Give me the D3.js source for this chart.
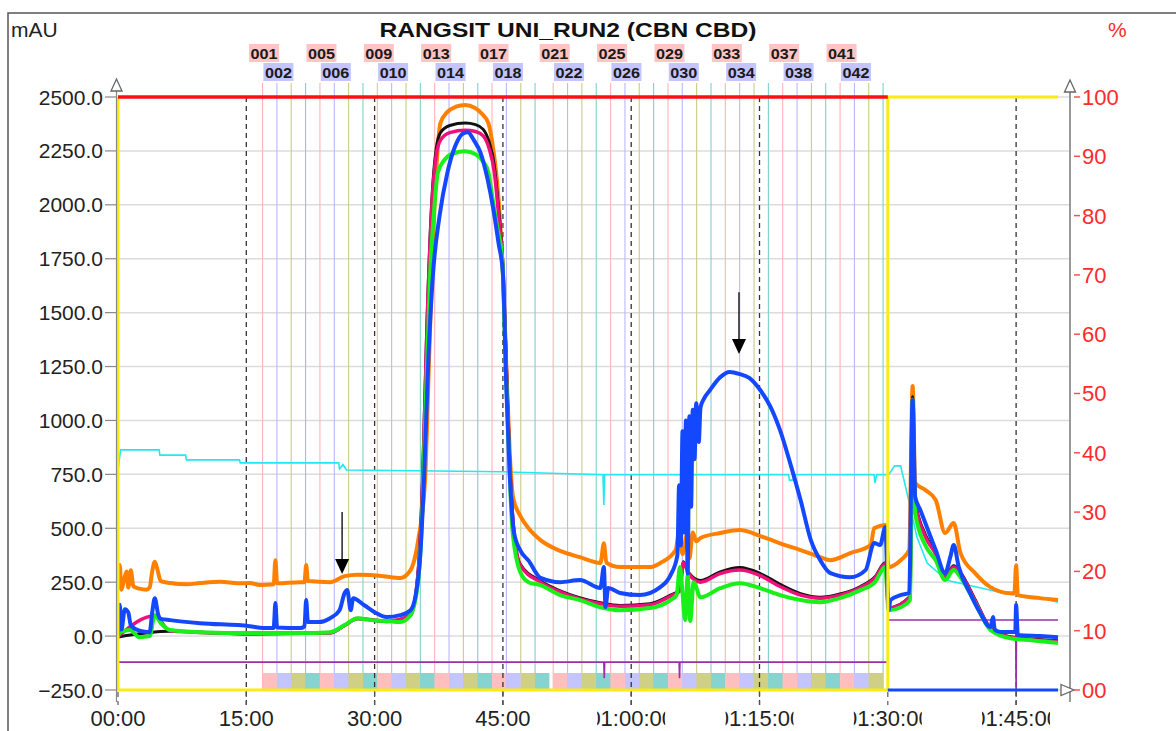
<!DOCTYPE html>
<html>
<head>
<meta charset="utf-8">
<script src="https://cdn.jsdelivr.net/npm/d3@7"></script>
<style>
body { margin: 0; background: #fff; }
text { font-family: "Liberation Sans", Arial, sans-serif; }
</style>
</head>
<body>
<svg id="chart" width="1176" height="731"></svg>
<script>
// chromatogram data: [minutes, mAU]
var orange = [[0,213],[0.2,330],[0.4,215],[0.7,260],[1.0,300],[1.2,225],[1.5,305],[1.8,230],[2.5,220],[3.3,215],[3.7,225],[4.0,300],[4.3,345],[4.6,310],[5,255],[6.1,246],[8,240],[9.6,246],[12,252],[14,245],[15.4,246],[16.6,237],[18.2,240],[18.4,352],[18.6,245],[21.3,250],[21.8,250],[22.0,330],[22.2,255],[24.8,250],[26.5,278],[28,285],[29.5,283],[31,278],[33,269],[34.2,306],[35.1,445],[35.9,724],[36.3,1200],[36.7,1684],[37.2,2150],[37.7,2379],[38.5,2430],[39.5,2455],[40.6,2463],[41.7,2450],[42.6,2420],[43.3,2379],[43.9,2250],[44.3,2115],[44.7,1900],[45.0,1684],[45.4,1250],[45.8,850],[46.2,640],[47,560],[48,500],[49.4,445],[51.7,395],[54,366],[56.4,339],[56.8,430],[57.1,340],[58.7,320],[62.2,320],[63.4,339],[65.2,399],[65.6,482],[66.0,380],[66.5,470],[66.8,360],[67.2,480],[67.6,440],[68.1,455],[70.4,478],[72.7,492],[75.1,464],[77.4,430],[79.8,399],[82.1,366],[83.3,352],[85.6,385],[88,422],[88.4,500],[89.7,515],[90.1,320],[91.5,352],[92.5,399],[92.9,1160],[93.2,710],[94.4,677],[95.6,631],[96.7,478],[97.7,524],[98.5,385],[100.2,292],[102,227],[104.3,199],[104.8,199],[105,329],[105.2,190],[107.8,176],[109.9,167]];

var black = [[0,-4],[6.1,22],[15.4,10],[24.8,14],[26.5,48],[28,80],[31.4,67],[34.2,96],[35.1,310],[35.6,720],[36.1,1430],[36.7,2030],[37.2,2260],[37.7,2335],[38.8,2368],[40.6,2379],[41.8,2372],[42.7,2350],[43.4,2290],[44.0,2180],[44.5,1980],[45.0,1720],[45.4,1270],[45.8,810],[46.2,530],[47,335],[49.4,255],[51.7,210],[56.4,155],[58.7,142],[62.2,150],[64.6,190],[65.7,215],[66.1,345],[66.7,295],[68.1,258],[70.4,298],[72.7,318],[75.1,290],[77.4,240],[79.8,197],[82.1,180],[84.4,195],[86.8,230],[88.5,275],[89.7,340],[90.1,132],[92.6,185],[92.9,1110],[93.2,630],[94.4,470],[95.6,388],[96.7,280],[97.7,326],[98.5,295],[100.2,170],[102,38],[104.3,-3],[109.9,-22]];

var pink = [[0,-2],[4.3,94],[6.1,24],[15.4,12],[24.8,16],[26.5,50],[28,82],[31.4,69],[34.2,97],[35.1,300],[35.6,700],[36.1,1400],[36.7,2000],[37.2,2230],[37.7,2300],[38.8,2335],[40.6,2346],[41.8,2340],[42.7,2320],[43.4,2260],[44.0,2150],[44.5,1950],[45.0,1700],[45.4,1250],[45.8,800],[46.2,520],[47,330],[49.4,250],[51.7,205],[56.4,150],[58.7,138],[62.2,145],[64.6,185],[65.7,210],[66.1,340],[66.7,290],[68.1,250],[70.4,290],[72.7,306],[75.1,280],[77.4,230],[79.8,190],[82.1,176],[84.4,190],[86.8,225],[88.5,270],[89.7,335],[90.1,130],[92.6,180],[92.9,1100],[93.2,620],[94.4,460],[95.6,380],[96.7,275],[97.7,320],[98.5,290],[100.2,165],[102,35],[104.3,-5],[109.9,-25]];

var green = [[0,0],[0.3,20],[1.4,28],[2.5,-5],[3.7,0],[4.3,97],[5,60],[6.1,28],[9.6,18],[15.4,14],[21.3,14],[24.8,18],[26.5,51],[28,83],[29.5,74],[31.4,70],[33,65],[34.2,97],[35.1,260],[35.6,600],[36.0,1100],[36.5,1684],[37.0,2000],[37.4,2150],[38.2,2210],[39.2,2238],[40.6,2248],[41.8,2235],[42.7,2200],[43.3,2150],[43.9,2000],[44.4,1880],[44.9,1760],[45.3,1300],[45.7,850],[46.1,500],[47,300],[48,250],[49.4,236],[51.7,190],[54,167],[56.4,134],[58.7,120],[62.2,130],[64.6,167],[65.3,190],[65.7,320],[66.0,200],[66.3,75],[66.6,280],[66.9,70],[67.3,250],[68.1,180],[70.4,222],[72.7,245],[75.1,222],[77.4,190],[79.8,167],[82.1,157],[84.4,176],[86.8,213],[88.5,250],[89.7,320],[90.1,120],[91.5,134],[92.6,167],[92.9,1095],[93.2,570],[94.4,420],[95.6,352],[96.7,260],[97.7,306],[98.5,273],[100.2,153],[102,28],[104.3,-10],[107,-20],[109.9,-32]];

var blue = [[0,0],[0.2,145],[0.4,30],[0.8,125],[1.2,110],[1.5,50],[2.5,25],[3.7,18],[4.0,110],[4.3,176],[4.7,100],[5,80],[6.1,74],[9.6,60],[15.4,46],[17,37],[18.2,37],[18.4,153],[18.6,40],[21.3,37],[21.8,45],[22.0,167],[22.2,65],[23.4,65],[24.8,83],[25.9,120],[26.5,200],[26.8,214],[27.2,120],[27.5,176],[28.8,143],[30,111],[31.4,88],[33,97],[34.2,120],[34.8,190],[35.3,353],[35.8,750],[36.3,1300],[36.8,1665],[37.6,1950],[38.5,2147],[39.4,2270],[40.3,2330],[40.9,2337],[41.6,2300],[42.4,2240],[43.2,2120],[43.9,1975],[44.5,1820],[45.0,1684],[45.4,1150],[45.8,750],[46.3,480],[47,400],[48,350],[49.4,270],[51.7,250],[54,260],[56.4,223],[56.8,320],[57.0,135],[57.3,223],[58.7,200],[61,190],[63.4,227],[64.6,283],[65.4,375],[65.6,700],[65.8,420],[66.0,950],[66.2,480],[66.4,1000],[66.6,290],[66.8,1020],[67.0,600],[67.2,1050],[67.4,820],[67.6,1080],[67.9,900],[68.1,1060],[68.5,1100],[69.2,1140],[70.4,1200],[71.5,1225],[72.7,1215],[73.8,1197],[75.1,1140],[76.3,1062],[77.4,955],[78.6,800],[79.8,631],[81,445],[82.1,352],[83.3,292],[85.6,273],[87.4,306],[88.4,432],[89.1,422],[89.7,505],[90.1,120],[90.3,167],[91.5,190],[92.5,200],[92.9,1095],[93.2,645],[93.8,585],[95.6,399],[96.7,292],[97.3,366],[97.7,422],[98.3,320],[99.6,200],[100.8,107],[102,42],[102.3,88],[102.5,30],[103.2,19],[104.9,19],[105,144],[105.2,5],[107.8,0],[109.9,-5]];

// right axis traces: [minutes, %]
var cyan = [[0,37.0],[0.3,40.5],[4.8,40.5],[4.9,39.6],[7.9,39.6],[8.0,38.8],[14.2,38.8],[14.3,38.3],[25.8,38.3],[25.9,37.3],[26.3,38.0],[26.5,37.6],[26.7,37.1],[45,36.8],[56.7,36.3],[56.8,31.2],[56.9,36.3],[78.4,36.3],[78.5,35.4],[78.9,35.4],[79.0,36.3],[88.4,36.3],[88.5,34.9],[88.7,36.3],[90.1,36.3],[90.8,37.8],[91.5,37.8],[92.6,31],[93.4,25.8],[94.6,21.4],[96.9,18.5],[101.8,16.9],[104,16.2],[107.8,15.5],[109.9,14.8]];
var purple = [[0,4.7],[56.8,4.7],[56.85,2.0],[56.9,4.7],[65.6,4.7],[65.65,2.0],[65.7,4.7],[90,4.7],[90,11.8],[104.95,11.8],[105,0],[105.05,11.8],[109.9,11.8]];
var redB = [[0,100],[90,100]];
var yellowB = [[0,100],[0,0],[90,0],[90,100],[109.9,100]];
var blueB = [[90,0],[109.9,0]];

// fractions
var fracStart = [16.90,18.58,20.25,21.93,23.61,25.29,26.96,28.64,30.32,31.99,33.67,35.35,37.02,38.70,40.38,42.06,43.73,45.41,47.09,48.76,
                 50.88,52.56,54.23,55.91,57.59,59.27,60.94,62.62,64.30,65.97,67.65,69.33,71.00,72.68,74.36,76.04,77.71,79.39,81.07,82.74,84.42,86.10,87.77];
var fracWidth = 1.677;
var fracBand = ["#ffbfbf", "#c4c4ff", "#cfcf86", "#86d3cf"];
var fracLine = ["#ffb4b4", "#b8b8ff", "#cccc80", "#80d0cc"];

var leftTicks = [-250, 0, 250, 500, 750, 1000, 1250, 1500, 1750, 2000, 2250, 2500];
var rightTicks = [0, 10, 20, 30, 40, 50, 60, 70, 80, 90, 100];
var timeTicks = [0, 15, 30, 45, 60, 75, 90, 105];
var timeLabels = ["00:00", "15:00", "30:00", "45:00", "01:00:00", "01:15:00", "01:30:00", "01:45:00"];
var dashedAt = [15, 30, 45, 60, 75, 105];
var arrows = [[26.2, 575, 288], [72.6, 1595, 1308]];

var svg = d3.select("#chart");

var x = d3.scaleLinear().domain([0, 111.3]).range([118, 1070]);
var yL = d3.scaleLinear().domain([-250, 2500]).range([690, 97]);
var yR = d3.scaleLinear().domain([0, 100]).range([690, 97]);

// frame
svg.append("path").attr("d", "M8,731 V13 H1176")
    .attr("fill", "none").attr("stroke", "#555").attr("stroke-width", 1.5);

// horizontal grid
svg.append("g").selectAll("line").data(leftTicks).enter().append("line")
    .attr("x1", 118).attr("x2", 1070)
    .attr("y1", function (d) { return yL(d); })
    .attr("y2", function (d) { return yL(d); })
    .attr("stroke", "#dcdcdc").attr("stroke-width", 1.5);

// fraction lines
svg.append("g").selectAll("line").data(fracStart).enter().append("line")
    .attr("x1", function (d) { return x(d); })
    .attr("x2", function (d) { return x(d); })
    .attr("y1", 83).attr("y2", 690)
    .attr("stroke", function (d, i) { return fracLine[i % 4]; })
    .attr("stroke-width", 1.1);
svg.append("line")
    .attr("x1", x(fracStart[42] + fracWidth)).attr("x2", x(fracStart[42] + fracWidth))
    .attr("y1", 83).attr("y2", 690)
    .attr("stroke", fracLine[3]).attr("stroke-width", 1.1);

// fraction band
svg.append("g").selectAll("rect").data(fracStart).enter().append("rect")
    .attr("x", function (d) { return x(d); })
    .attr("width", function (d) { return x(d + fracWidth) - x(d); })
    .attr("y", 673).attr("height", 17)
    .attr("fill", function (d, i) { return fracBand[i % 4]; });

// dashed time lines
svg.append("g").selectAll("line").data(dashedAt).enter().append("line")
    .attr("x1", function (d) { return x(d); })
    .attr("x2", function (d) { return x(d); })
    .attr("y1", 97).attr("y2", 705)
    .attr("stroke", "#333").attr("stroke-width", 1.3)
    .attr("stroke-dasharray", "5,4");

// fraction labels
var labelled = [];
fracStart.forEach(function (d, i) {
    var n = i + 1;
    if (n % 4 === 1 || n % 4 === 2) { labelled.push({ n: n, t: d }); }
});
var lab = svg.append("g").selectAll("g").data(labelled).enter().append("g")
    .attr("transform", function (d) {
        return "translate(" + (x(d.t) + 1.5) + "," + (d.n % 4 === 1 ? 53 : 72) + ")";
    });
lab.append("rect")
    .attr("x", -15).attr("y", -9).attr("width", 30).attr("height", 18)
    .attr("fill", function (d) { return d.n % 4 === 1 ? "#ffc4c4" : "#c4c4ff"; });
lab.append("text")
    .attr("x", -13.5).attr("dy", "0.37em")
    .attr("font-size", 15).attr("font-weight", "bold").attr("fill", "#1a1a1a")
    .attr("textLength", 27).attr("lengthAdjust", "spacingAndGlyphs")
    .text(function (d) { return d3.format("03d")(d.n); });

var lineL = d3.line().curve(d3.curveMonotoneX)
    .x(function (d) { return x(d[0]); }).y(function (d) { return yL(d[1]); });
var lineR = d3.line().x(function (d) { return x(d[0]); }).y(function (d) { return yR(d[1]); });

svg.append("path").datum(purple).attr("d", lineR)
    .attr("fill", "none").attr("stroke", "#9a2fa8").attr("stroke-width", 1.6);
svg.append("path").datum(cyan).attr("d", lineR)
    .attr("fill", "none").attr("stroke", "#22e8f0").attr("stroke-width", 1.6);

var traces = [
    { data: orange, color: "#ff8000", w: 4 },
    { data: black, color: "#111", w: 3 },
    { data: pink, color: "#f0107a", w: 3.5 },
    { data: green, color: "#19f019", w: 4 },
    { data: blue, color: "#1448ff", w: 4 }
];
traces.forEach(function (s) {
    svg.append("path").datum(s.data).attr("d", lineL)
        .attr("fill", "none").attr("stroke", s.color)
        .attr("stroke-width", s.w).attr("stroke-linejoin", "round");
});

svg.append("path").datum(yellowB).attr("d", lineR)
    .attr("fill", "none").attr("stroke", "#f8ec10").attr("stroke-width", 3);
svg.append("path").datum(redB).attr("d", lineR)
    .attr("fill", "none").attr("stroke", "#ff1010").attr("stroke-width", 3.5);
svg.append("path").datum(blueB).attr("d", lineR)
    .attr("fill", "none").attr("stroke", "#1448ff").attr("stroke-width", 3);

// axes
svg.append("line").attr("x1", 116.5).attr("x2", 116.5).attr("y1", 88).attr("y2", 702)
    .attr("stroke", "#888").attr("stroke-width", 1.2);
svg.append("line").attr("x1", 1070).attr("x2", 1070).attr("y1", 90).attr("y2", 702)
    .attr("stroke", "#999").attr("stroke-width", 2);
svg.append("path").attr("d", "M116.5,79 L111,91 L122,91 Z")
    .attr("fill", "#fff").attr("stroke", "#666").attr("stroke-width", 1.3);
svg.append("path").attr("d", "M1070,80 L1064.5,92 L1075.5,92 Z")
    .attr("fill", "#fff").attr("stroke", "#666").attr("stroke-width", 1.3);
svg.append("path").attr("d", "M1061,684.5 L1074,690 L1061,695.5 Z")
    .attr("fill", "#fff").attr("stroke", "#666").attr("stroke-width", 1.3);

var gl = svg.append("g").selectAll("g").data(leftTicks).enter().append("g")
    .attr("transform", function (d) { return "translate(0," + yL(d) + ")"; });
gl.append("line").attr("x1", 105).attr("x2", 116).attr("stroke", "#888").attr("stroke-width", 1.2);
gl.append("text").attr("x", 103).attr("dy", "0.36em").attr("text-anchor", "end")
    .attr("font-size", 21).attr("fill", "#222")
    .text(function (d) { return d3.format(".1f")(d); });

var gr = svg.append("g").selectAll("g").data(rightTicks).enter().append("g")
    .attr("transform", function (d) { return "translate(0," + yR(d) + ")"; });
gr.append("line").attr("x1", 1074).attr("x2", 1080).attr("stroke", "#ff5050").attr("stroke-width", 1.5);
gr.append("text").attr("x", 1082).attr("dy", "0.36em")
    .attr("font-size", 22).attr("fill", "#ff2a2a")
    .text(function (d) { return d === 0 ? "00" : d; });

// time labels, clipped like the instrument software does
var defs = svg.append("defs");
timeTicks.forEach(function (d, i) {
    defs.append("clipPath").attr("id", "tc" + i).append("rect")
        .attr("x", x(d) - 34).attr("y", 700).attr("width", 68).attr("height", 31);
});
var gt = svg.append("g").selectAll("g").data(timeTicks).enter().append("g");
gt.append("line")
    .attr("x1", function (d) { return x(d); }).attr("x2", function (d) { return x(d); })
    .attr("y1", 692).attr("y2", 705)
    .attr("stroke", "#555").attr("stroke-width", 1.2).attr("stroke-dasharray", "5,4");
gt.append("text")
    .attr("clip-path", function (d, i) { return "url(#tc" + i + ")"; })
    .attr("x", function (d) { return x(d); }).attr("y", 726)
    .attr("text-anchor", "middle").attr("font-size", 22).attr("fill", "#222")
    .text(function (d, i) { return timeLabels[i]; });

// arrows
arrows.forEach(function (a) {
    var ax = x(a[0]), y0 = yL(a[1]), y1 = yL(a[2]);
    svg.append("line").attr("x1", ax).attr("x2", ax).attr("y1", y0).attr("y2", y1 - 12)
        .attr("stroke", "#000").attr("stroke-width", 1.3);
    svg.append("path").attr("d", "M" + (ax - 7) + "," + (y1 - 15) + " L" + (ax + 7) + "," + (y1 - 15) + " L" + ax + "," + y1 + " Z")
        .attr("fill", "#000");
});

// titles
svg.append("text").attr("x", 568).attr("y", 37).attr("text-anchor", "middle")
    .attr("font-size", 20).attr("font-weight", "bold").attr("fill", "#111")
    .attr("textLength", 377).attr("lengthAdjust", "spacingAndGlyphs")
    .text("RANGSIT UNI_RUN2 (CBN CBD)");
svg.append("text").attr("x", 11).attr("y", 37).attr("font-size", 21).attr("fill", "#222").text("mAU");
svg.append("text").attr("x", 1108).attr("y", 37).attr("font-size", 21).attr("fill", "#ff2a2a").text("%");
</script>
</body>
</html>
